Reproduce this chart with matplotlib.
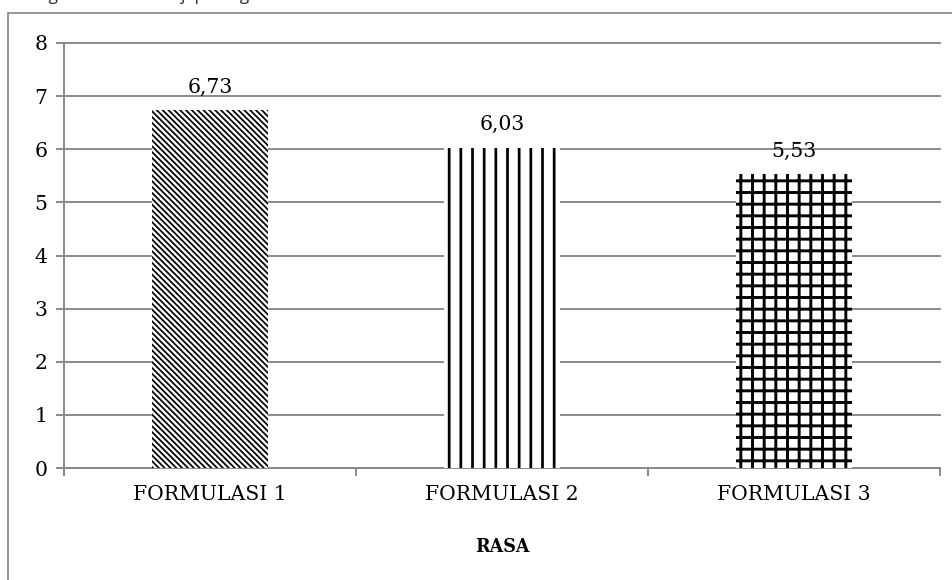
import matplotlib
matplotlib.use("Agg")
from matplotlib import pyplot as plt
from matplotlib.patches import Rectangle

# scores for RASA per formulation
categories = ["FORMULASI 1", "FORMULASI 2", "FORMULASI 3"]
scores = [6.73, 6.03, 5.53]
yticks = [0, 1, 2, 3, 4, 5, 6, 7, 8]
hatches = ["\\\\\\\\", "|", "+"]
hatch_widths = [1.8, 2.8, 3.0]

DPI = 70
W, H = 952, 580
GRAY = "#8a8a8a"
SERIF = ["DejaVu Serif"]

fig = plt.figure(figsize=(W / DPI, H / DPI), dpi=DPI)
fig.patch.set_facecolor("white")

# caption line from the page above the chart, mostly off the top edge
fig.text(10 / W, 1 - 0.5 / H, "sebagai berikut tersaji pada gambar", fontsize=18,
         family="Open Sans", color="#333333", va="baseline", ha="left")

# outer chart frame (right and bottom run off the page)
frame = Rectangle((8 / W, -0.2), 1.2, (580 - 13) / H + 0.2, transform=fig.transFigure,
                  fill=False, edgecolor=GRAY, linewidth=1.8, clip_on=False)
fig.add_artist(frame)

ax = fig.add_axes([64 / W, 1 - 468 / H, (940 - 64) / W, (468 - 43) / H])
x = list(range(len(categories)))
bars = ax.bar(x, scores, width=0.4, color="white", edgecolor="black", linewidth=0, zorder=3)
for bar, h, lw in zip(bars, hatches, hatch_widths):
    bar.set_hatch(h)
    try:
        bar.set_hatch_linewidth(lw)
    except AttributeError:
        plt.rcParams["hatch.linewidth"] = lw

for xi, v in zip(x, scores):
    ax.annotate(("%.2f" % v).replace(".", ","), (xi, v), xytext=(0, 14),
                textcoords="offset points", ha="center", va="bottom",
                fontsize=21, family=SERIF)

ax.set_xlim(-0.5, 2.5)
ax.set_ylim(0, 8)
ax.set_yticks(yticks)
ax.set_yticklabels([str(t) for t in yticks], family=SERIF, fontsize=21)
ax.yaxis.grid(True, color=GRAY, linewidth=2.0, clip_on=False, zorder=0)
ax.set_axisbelow(True)

# category boundary ticks, labels sit on minor ticks
ax.set_xticks([-0.5, 0.5, 1.5, 2.5])
ax.set_xticklabels([])
ax.set_xticks(x, minor=True)
ax.set_xticklabels(categories, minor=True, family=SERIF, fontsize=21)
ax.tick_params(axis="x", which="major", direction="out", length=8, width=2, color=GRAY)
ax.tick_params(axis="x", which="minor", length=0, pad=18)
ax.tick_params(axis="y", direction="out", length=8, width=2, color=GRAY, pad=9)

for s in ["top", "right"]:
    ax.spines[s].set_visible(False)
for s in ["left", "bottom"]:
    ax.spines[s].set_color(GRAY)
    ax.spines[s].set_linewidth(2)

fig.text((64 + 940) / 2 / W, 1 - 547 / H, "RASA", ha="center", va="center",
         fontsize=18, fontweight="bold", family=SERIF)

fig.savefig("out.png", dpi=DPI)
